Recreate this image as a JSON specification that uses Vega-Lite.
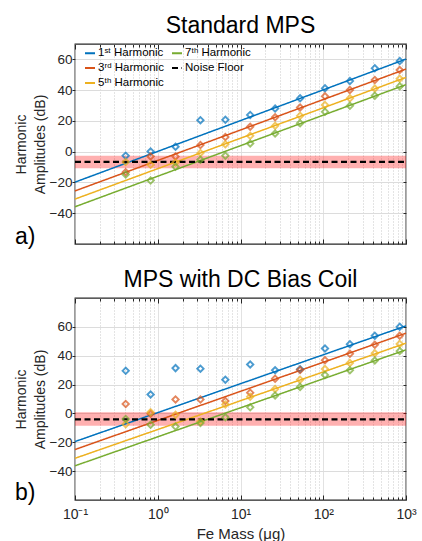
{
  "$schema": "https://vega.github.io/schema/vega-lite/v6.json",
  "padding": {"left": 13, "top": 13, "right": 5, "bottom": 0},
  "spacing": 17,
  "datasets": {
    "fitA": [
      {"series": "1ˢᵗ Harmonic", "x": 0.1, "y": -19.8}, {"series": "1ˢᵗ Harmonic", "x": 1000, "y": 60.2},
      {"series": "3ʳᵈ Harmonic", "x": 0.1, "y": -25.5}, {"series": "3ʳᵈ Harmonic", "x": 1000, "y": 53.7},
      {"series": "5ᵗʰ Harmonic", "x": 0.1, "y": -30.8}, {"series": "5ᵗʰ Harmonic", "x": 1000, "y": 48.3},
      {"series": "7ᵗʰ Harmonic", "x": 0.1, "y": -35.8}, {"series": "7ᵗʰ Harmonic", "x": 1000, "y": 43.6},
      {"series": "Noise Floor", "x": 0.1, "y": -6.6}, {"series": "Noise Floor", "x": 1000, "y": -6.6}
    ],
    "fitB": [
      {"series": "1ˢᵗ Harmonic", "x": 0.1, "y": -19.5}, {"series": "1ˢᵗ Harmonic", "x": 1000, "y": 60.7},
      {"series": "3ʳᵈ Harmonic", "x": 0.1, "y": -25.0}, {"series": "3ʳᵈ Harmonic", "x": 1000, "y": 55.6},
      {"series": "5ᵗʰ Harmonic", "x": 0.1, "y": -31.1}, {"series": "5ᵗʰ Harmonic", "x": 1000, "y": 48.7},
      {"series": "7ᵗʰ Harmonic", "x": 0.1, "y": -36.3}, {"series": "7ᵗʰ Harmonic", "x": 1000, "y": 44.1},
      {"series": "Noise Floor", "x": 0.1, "y": -4.1}, {"series": "Noise Floor", "x": 1000, "y": -4.1}
    ],
    "bandA": [{"lo": -10.8, "hi": -2.6}],
    "bandB": [{"lo": -8.5, "hi": 0.8}],
    "ptsA": [
      {"series": "1ˢᵗ Harmonic", "x": 0.41, "y": -2.6}, {"series": "1ˢᵗ Harmonic", "x": 0.82, "y": 0.2},
      {"series": "1ˢᵗ Harmonic", "x": 1.64, "y": 3.2}, {"series": "1ˢᵗ Harmonic", "x": 3.28, "y": 20.5},
      {"series": "1ˢᵗ Harmonic", "x": 6.56, "y": 20.7}, {"series": "1ˢᵗ Harmonic", "x": 13.1, "y": 23.9},
      {"series": "1ˢᵗ Harmonic", "x": 26.2, "y": 28.0}, {"series": "1ˢᵗ Harmonic", "x": 52.5, "y": 34.7},
      {"series": "1ˢᵗ Harmonic", "x": 105, "y": 41.2}, {"series": "1ˢᵗ Harmonic", "x": 210, "y": 45.9},
      {"series": "1ˢᵗ Harmonic", "x": 420, "y": 54.2}, {"series": "1ˢᵗ Harmonic", "x": 840, "y": 58.9},
      {"series": "3ʳᵈ Harmonic", "x": 0.41, "y": -13.3}, {"series": "3ʳᵈ Harmonic", "x": 0.82, "y": -3.1},
      {"series": "3ʳᵈ Harmonic", "x": 1.64, "y": -3.1}, {"series": "3ʳᵈ Harmonic", "x": 3.28, "y": 4.3},
      {"series": "3ʳᵈ Harmonic", "x": 6.56, "y": 9.5}, {"series": "3ʳᵈ Harmonic", "x": 13.1, "y": 16.2},
      {"series": "3ʳᵈ Harmonic", "x": 26.2, "y": 22.4}, {"series": "3ʳᵈ Harmonic", "x": 52.5, "y": 28.7},
      {"series": "3ʳᵈ Harmonic", "x": 105, "y": 36.0}, {"series": "3ʳᵈ Harmonic", "x": 210, "y": 40.1},
      {"series": "3ʳᵈ Harmonic", "x": 420, "y": 46.6}, {"series": "3ʳᵈ Harmonic", "x": 840, "y": 53.1},
      {"series": "5ᵗʰ Harmonic", "x": 0.41, "y": -6.7}, {"series": "5ᵗʰ Harmonic", "x": 0.82, "y": -8.5},
      {"series": "5ᵗʰ Harmonic", "x": 1.64, "y": -7.0}, {"series": "5ᵗʰ Harmonic", "x": 3.28, "y": -0.9},
      {"series": "5ᵗʰ Harmonic", "x": 6.56, "y": 4.9}, {"series": "5ᵗʰ Harmonic", "x": 13.1, "y": 10.3},
      {"series": "5ᵗʰ Harmonic", "x": 26.2, "y": 16.8}, {"series": "5ᵗʰ Harmonic", "x": 52.5, "y": 23.3},
      {"series": "5ᵗʰ Harmonic", "x": 105, "y": 30.4}, {"series": "5ᵗʰ Harmonic", "x": 210, "y": 34.7},
      {"series": "5ᵗʰ Harmonic", "x": 420, "y": 41.0}, {"series": "5ᵗʰ Harmonic", "x": 840, "y": 47.4},
      {"series": "7ᵗʰ Harmonic", "x": 0.41, "y": -14.8}, {"series": "7ᵗʰ Harmonic", "x": 0.82, "y": -18.8},
      {"series": "7ᵗʰ Harmonic", "x": 1.64, "y": -9.8}, {"series": "7ᵗʰ Harmonic", "x": 3.28, "y": -5.2},
      {"series": "7ᵗʰ Harmonic", "x": 6.56, "y": -2.6}, {"series": "7ᵗʰ Harmonic", "x": 13.1, "y": 5.3},
      {"series": "7ᵗʰ Harmonic", "x": 26.2, "y": 11.8}, {"series": "7ᵗʰ Harmonic", "x": 52.5, "y": 18.5},
      {"series": "7ᵗʰ Harmonic", "x": 105, "y": 25.9}, {"series": "7ᵗʰ Harmonic", "x": 210, "y": 29.8},
      {"series": "7ᵗʰ Harmonic", "x": 420, "y": 36.4}, {"series": "7ᵗʰ Harmonic", "x": 840, "y": 42.5}
    ],
    "ptsB": [
      {"series": "1ˢᵗ Harmonic", "x": 0.41, "y": 29.5}, {"series": "1ˢᵗ Harmonic", "x": 0.82, "y": 13.1},
      {"series": "1ˢᵗ Harmonic", "x": 1.64, "y": 31.4}, {"series": "1ˢᵗ Harmonic", "x": 3.28, "y": 31.0},
      {"series": "1ˢᵗ Harmonic", "x": 6.56, "y": 23.4}, {"series": "1ˢᵗ Harmonic", "x": 13.1, "y": 33.9},
      {"series": "1ˢᵗ Harmonic", "x": 26.2, "y": 29.9}, {"series": "1ˢᵗ Harmonic", "x": 52.5, "y": 30.6},
      {"series": "1ˢᵗ Harmonic", "x": 105, "y": 45.0}, {"series": "1ˢᵗ Harmonic", "x": 210, "y": 48.0},
      {"series": "1ˢᵗ Harmonic", "x": 420, "y": 53.9}, {"series": "1ˢᵗ Harmonic", "x": 840, "y": 60.0},
      {"series": "3ʳᵈ Harmonic", "x": 0.41, "y": 6.6}, {"series": "3ʳᵈ Harmonic", "x": 0.82, "y": -0.3},
      {"series": "3ʳᵈ Harmonic", "x": 1.64, "y": 9.7}, {"series": "3ʳᵈ Harmonic", "x": 3.28, "y": 9.6},
      {"series": "3ʳᵈ Harmonic", "x": 6.56, "y": 8.6}, {"series": "3ʳᵈ Harmonic", "x": 13.1, "y": 14.4},
      {"series": "3ʳᵈ Harmonic", "x": 26.2, "y": 24.1}, {"series": "3ʳᵈ Harmonic", "x": 52.5, "y": 30.1},
      {"series": "3ʳᵈ Harmonic", "x": 105, "y": 36.9}, {"series": "3ʳᵈ Harmonic", "x": 210, "y": 41.3},
      {"series": "3ʳᵈ Harmonic", "x": 420, "y": 47.6}, {"series": "3ʳᵈ Harmonic", "x": 840, "y": 53.9},
      {"series": "5ᵗʰ Harmonic", "x": 0.41, "y": -7.5}, {"series": "5ᵗʰ Harmonic", "x": 0.82, "y": 0.8},
      {"series": "5ᵗʰ Harmonic", "x": 1.64, "y": -1.0}, {"series": "5ᵗʰ Harmonic", "x": 3.28, "y": -5.6},
      {"series": "5ᵗʰ Harmonic", "x": 6.56, "y": 6.2}, {"series": "5ᵗʰ Harmonic", "x": 13.1, "y": 11.6},
      {"series": "5ᵗʰ Harmonic", "x": 26.2, "y": 16.9}, {"series": "5ᵗʰ Harmonic", "x": 52.5, "y": 23.4},
      {"series": "5ᵗʰ Harmonic", "x": 105, "y": 30.8}, {"series": "5ᵗʰ Harmonic", "x": 210, "y": 35.0},
      {"series": "5ᵗʰ Harmonic", "x": 420, "y": 41.7}, {"series": "5ᵗʰ Harmonic", "x": 840, "y": 48.2},
      {"series": "7ᵗʰ Harmonic", "x": 0.41, "y": -3.8}, {"series": "7ᵗʰ Harmonic", "x": 0.82, "y": -7.8},
      {"series": "7ᵗʰ Harmonic", "x": 1.64, "y": -9.1}, {"series": "7ᵗʰ Harmonic", "x": 3.28, "y": -6.7},
      {"series": "7ᵗʰ Harmonic", "x": 6.56, "y": -2.7}, {"series": "7ᵗʰ Harmonic", "x": 13.1, "y": 4.2},
      {"series": "7ᵗʰ Harmonic", "x": 26.2, "y": 12.5}, {"series": "7ᵗʰ Harmonic", "x": 52.5, "y": 18.4},
      {"series": "7ᵗʰ Harmonic", "x": 105, "y": 26.7}, {"series": "7ᵗʰ Harmonic", "x": 210, "y": 29.9},
      {"series": "7ᵗʰ Harmonic", "x": 420, "y": 36.7}, {"series": "7ᵗʰ Harmonic", "x": 840, "y": 43.2}
    ],
    "labA": [{"label": "a)"}],
    "labB": [{"label": "b)"}]
  },
  "config": {
    "font": "Liberation Sans",
    "view": {"stroke": "#262626", "strokeWidth": 1.3},
    "axis": {"domain": false, "labelFontSize": 13.5, "labelColor": "#262626", "titleFontSize": 14, "titleFontWeight": "normal", "titleColor": "#262626", "gridColor": "#dcdcdc", "tickColor": "#262626", "labelOverlap": false, "labelFlush": false},
    "title": {"fontSize": 23, "fontWeight": "normal", "color": "#000000", "offset": 6},
    "legend": {"labelFontSize": 11.5, "labelColor": "#000000", "symbolStrokeWidth": 1.8, "symbolSize": 100, "symbolType": "stroke", "padding": 0, "rowPadding": 3, "columnPadding": 4, "labelOffset": 2}
  },
  "resolve": {
    "scale": {"x": "independent", "y": "independent", "color": "independent", "strokeDash": "independent", "stroke": "independent"},
    "legend": {"color": "independent", "strokeDash": "independent"}
  },
  "vconcat": [
    {
      "width": 331, "height": 200,
      "title": "Standard MPS",
      "layer": [
        {
          "data": {"name": "bandA"},
          "mark": {"type": "rect", "fill": "#ff0000", "opacity": 0.31},
          "encoding": {
            "y": {"field": "lo", "type": "quantitative", "scale": {"domain": [-60, 70]}, "axis": null},
            "y2": {"field": "hi"}
          }
        },
        {
          "data": {"name": "fitA"},
          "mark": {"type": "line"},
          "encoding": {
            "x": {"field": "x", "type": "quantitative", "scale": {"type": "log", "domain": [0.1, 1000]},
              "axis": {"orient": "bottom", "values": [0.1,0.2,0.3,0.4,0.5,0.6,0.7,0.8,0.9,1,2,3,4,5,6,7,8,9,10,20,30,40,50,60,70,80,90,100,200,300,400,500,600,700,800,900,1000],
                "labels": false, "title": null, "grid": true,
                "gridDash": {"condition": {"test": "indexof([0.1,1,10,100,1000], datum.value) >= 0", "value": [1, 0]}, "value": [1, 2]},
                "gridColor": {"condition": {"test": "indexof([0.1,1,10,100,1000], datum.value) >= 0", "value": "#d9d9d9"}, "value": "#c8c8c8"},
                "tickSize": {"condition": {"test": "indexof([0.1,1,10,100,1000], datum.value) >= 0", "value": -5}, "value": -3}}},
            "y": {"field": "y", "type": "quantitative", "scale": {"domain": [-60, 70]},
              "axis": {"orient": "left", "values": [-40,-20,0,20,40,60], "grid": true, "tickSize": 3, "labelPadding": 0, "title": ["Harmonic", "Amplitudes (dB)"], "titlePadding": 2, "titleLineHeight": 19}},
            "color": {"field": "series", "type": "nominal",
              "scale": {"domain": ["1ˢᵗ Harmonic", "3ʳᵈ Harmonic", "5ᵗʰ Harmonic", "7ᵗʰ Harmonic", "Noise Floor"], "range": ["#0072BD", "#D95319", "#EDB120", "#77AC30", "#000000"]},
              "legend": {"orient": "none", "legendX": 9, "legendY": 3, "columns": 2, "title": null}},
            "strokeDash": {"field": "series", "type": "nominal",
              "scale": {"domain": ["1ˢᵗ Harmonic", "3ʳᵈ Harmonic", "5ᵗʰ Harmonic", "7ᵗʰ Harmonic", "Noise Floor"], "range": [[1, 0], [1, 0], [1, 0], [1, 0], [6, 3.5]]},
              "legend": {"orient": "none", "legendX": 9, "legendY": 3, "columns": 2, "title": null}},
            "strokeWidth": {"condition": {"test": "datum.series === 'Noise Floor'", "value": 2.3}, "value": 1.5}
          }
        },
        {
          "data": {"name": "ptsA"},
          "mark": {"type": "point", "filled": false, "shape": "diamond", "size": 40, "strokeWidth": 1.9},
          "encoding": {
            "x": {"field": "x", "type": "quantitative", "scale": {"type": "log", "domain": [0.1, 1000]},
              "axis": {"orient": "top", "values": [0.1,0.2,0.3,0.4,0.5,0.6,0.7,0.8,0.9,1,2,3,4,5,6,7,8,9,10,20,30,40,50,60,70,80,90,100,200,300,400,500,600,700,800,900,1000],
                "labels": false, "title": null, "grid": false,
                "tickSize": {"condition": {"test": "indexof([0.1,1,10,100,1000], datum.value) >= 0", "value": -5}, "value": -3}}},
            "y": {"field": "y", "type": "quantitative", "scale": {"domain": [-60, 70]},
              "axis": {"orient": "right", "values": [-40,-20,0,20,40,60], "grid": false, "labels": false, "title": null, "tickSize": -3}},
            "stroke": {"field": "series", "type": "nominal",
              "scale": {"domain": ["1ˢᵗ Harmonic", "3ʳᵈ Harmonic", "5ᵗʰ Harmonic", "7ᵗʰ Harmonic"], "range": ["#0072BD", "#D95319", "#EDB120", "#77AC30"]},
              "legend": null}
          }
        },
        {
          "data": {"name": "labA"},
          "mark": {"type": "text", "fontSize": 23, "align": "left", "baseline": "alphabetic", "color": "#000000"},
          "encoding": {
            "x": {"datum": 0.0188, "type": "quantitative", "axis": null},
            "y": {"datum": -60, "type": "quantitative", "axis": null},
            "text": {"field": "label"}
          }
        }
      ]
    },
    {
      "width": 331, "height": 202,
      "title": "MPS with DC Bias Coil",
      "layer": [
        {
          "data": {"name": "bandB"},
          "mark": {"type": "rect", "fill": "#ff0000", "opacity": 0.31},
          "encoding": {
            "y": {"field": "lo", "type": "quantitative", "scale": {"domain": [-60, 72]}, "axis": null},
            "y2": {"field": "hi"}
          }
        },
        {
          "data": {"name": "fitB"},
          "mark": {"type": "line"},
          "encoding": {
            "x": {"field": "x", "type": "quantitative", "scale": {"type": "log", "domain": [0.1, 1000]},
              "axis": {"orient": "bottom", "values": [0.1,0.2,0.3,0.4,0.5,0.6,0.7,0.8,0.9,1,2,3,4,5,6,7,8,9,10,20,30,40,50,60,70,80,90,100,200,300,400,500,600,700,800,900,1000],
                "labelExpr": "datum.value == 0.1 ? '10⁻¹' : datum.value == 1 ? '10⁰' : datum.value == 10 ? '10¹' : datum.value == 100 ? '10²' : datum.value == 1000 ? '10³' : ''",
                "labelFontSize": 14, "labelPadding": 12,
                "title": "Fe Mass (μg)", "titleFontSize": 15, "titlePadding": 3, "grid": true,
                "gridDash": {"condition": {"test": "indexof([0.1,1,10,100,1000], datum.value) >= 0", "value": [1, 0]}, "value": [1, 2]},
                "gridColor": {"condition": {"test": "indexof([0.1,1,10,100,1000], datum.value) >= 0", "value": "#d9d9d9"}, "value": "#c8c8c8"},
                "tickSize": {"condition": {"test": "indexof([0.1,1,10,100,1000], datum.value) >= 0", "value": -5}, "value": -3}}},
            "y": {"field": "y", "type": "quantitative", "scale": {"domain": [-60, 72]},
              "axis": {"orient": "left", "values": [-40,-20,0,20,40,60], "grid": true, "tickSize": 3, "labelPadding": 0, "title": ["Harmonic", "Amplitudes (dB)"], "titlePadding": 2, "titleLineHeight": 19}},
            "color": {"field": "series", "type": "nominal",
              "scale": {"domain": ["1ˢᵗ Harmonic", "3ʳᵈ Harmonic", "5ᵗʰ Harmonic", "7ᵗʰ Harmonic", "Noise Floor"], "range": ["#0072BD", "#D95319", "#EDB120", "#77AC30", "#000000"]},
              "legend": null},
            "strokeDash": {"field": "series", "type": "nominal",
              "scale": {"domain": ["1ˢᵗ Harmonic", "3ʳᵈ Harmonic", "5ᵗʰ Harmonic", "7ᵗʰ Harmonic", "Noise Floor"], "range": [[1, 0], [1, 0], [1, 0], [1, 0], [6, 3.5]]},
              "legend": null},
            "strokeWidth": {"condition": {"test": "datum.series === 'Noise Floor'", "value": 2.3}, "value": 1.5}
          }
        },
        {
          "data": {"name": "ptsB"},
          "mark": {"type": "point", "filled": false, "shape": "diamond", "size": 40, "strokeWidth": 1.9},
          "encoding": {
            "x": {"field": "x", "type": "quantitative", "scale": {"type": "log", "domain": [0.1, 1000]},
              "axis": {"orient": "top", "values": [0.1,0.2,0.3,0.4,0.5,0.6,0.7,0.8,0.9,1,2,3,4,5,6,7,8,9,10,20,30,40,50,60,70,80,90,100,200,300,400,500,600,700,800,900,1000],
                "labels": false, "title": null, "grid": false,
                "tickSize": {"condition": {"test": "indexof([0.1,1,10,100,1000], datum.value) >= 0", "value": -5}, "value": -3}}},
            "y": {"field": "y", "type": "quantitative", "scale": {"domain": [-60, 72]},
              "axis": {"orient": "right", "values": [-40,-20,0,20,40,60], "grid": false, "labels": false, "title": null, "tickSize": -3}},
            "stroke": {"field": "series", "type": "nominal",
              "scale": {"domain": ["1ˢᵗ Harmonic", "3ʳᵈ Harmonic", "5ᵗʰ Harmonic", "7ᵗʰ Harmonic"], "range": ["#0072BD", "#D95319", "#EDB120", "#77AC30"]},
              "legend": null}
          }
        },
        {
          "data": {"name": "labB"},
          "mark": {"type": "text", "fontSize": 23, "align": "left", "baseline": "alphabetic", "color": "#000000"},
          "encoding": {
            "x": {"datum": 0.0188, "type": "quantitative", "axis": null},
            "y": {"datum": -60, "type": "quantitative", "axis": null},
            "text": {"field": "label"}
          }
        }
      ]
    }
  ]
}
